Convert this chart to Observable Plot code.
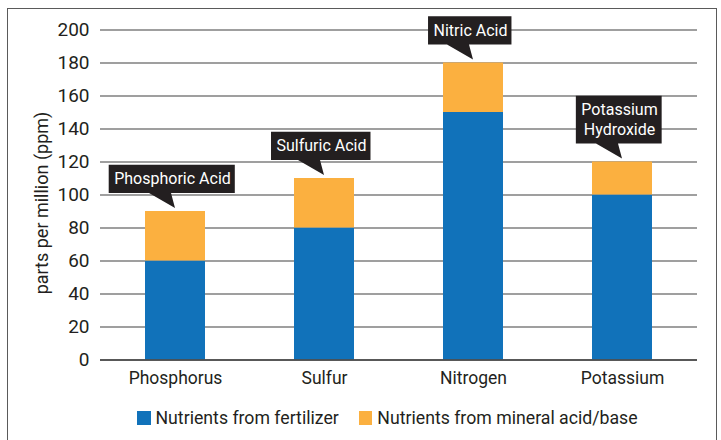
<!DOCTYPE html>
<html><head><meta charset="utf-8">
<script src="https://cdn.jsdelivr.net/npm/d3@7"></script>
<script src="https://cdn.jsdelivr.net/npm/@observablehq/plot@0.6"></script>
<style>
body{margin:0;background:#fff;font-family:Roboto,sans-serif;}
#frame{position:absolute;left:7px;top:8px;width:710px;height:500px;border:1px solid #5a5a5a;box-sizing:border-box;}
#chart{position:absolute;left:0;top:0;}
#legend{position:absolute;left:137px;top:408px;display:flex;align-items:center;font-size:17.7px;color:#231f20;white-space:nowrap;}
#legend .item{display:flex;align-items:center;margin-right:20px;}
#legend .sw{width:13.5px;height:13.5px;margin-right:5px;}
</style></head><body>
<div id="frame"></div>
<div id="chart"></div>
<div id="legend"></div>
<script>
const nutrients = ["Phosphorus", "Sulfur", "Nitrogen", "Potassium"];
const fertilizer = [60, 80, 150, 100];
const mineral = [30, 30, 30, 20];
const callouts = ["Phosphoric Acid", "Sulfuric Acid", "Nitric Acid", "Potassium\nHydroxide"];
const seriesNames = ["Nutrients from fertilizer", "Nutrients from mineral acid/base"];
const seriesColors = ["#1172ba", "#fbb040"];
const yTicks = [0, 20, 40, 60, 80, 100, 120, 140, 160, 180, 200];
const yLabel = "parts per million (ppm)";

const rows = nutrients.flatMap((n, i) => [
  {nutrient: n, source: seriesNames[0], value: fertilizer[i]},
  {nutrient: n, source: seriesNames[1], value: mineral[i]}
]);
const tops = nutrients.map((n, i) => ({nutrient: n, total: fertilizer[i] + mineral[i], label: callouts[i]}));

const boxFill = "#231f20";
function calloutRender(index, scales, values, dimensions, context, next) {
  const ns = "http://www.w3.org/2000/svg";
  const wrap = document.createElementNS(ns, "g");
  const bg = document.createElementNS(ns, "g");
  const ctx = document.createElement("canvas").getContext("2d");
  ctx.font = "16px Roboto";
  const half = scales.x.bandwidth ? scales.x.bandwidth() / 2 : 0;
  for (const i of index) {
    const cx = values.x[i] + half;
    const top = values.y[i];
    const lines = String(tops[i].label).split("\n");
    const w = Math.max(...lines.map(l => ctx.measureText(l).width));
    const tcx = cx - 3;
    const L = tcx - w / 2 - 5, R = tcx + w / 2 + 4.5;
    const B = top - 18, T = B - 28.3 - (lines.length - 1) * 19.4;
    const p = document.createElementNS(ns, "path");
    p.setAttribute("d", `M${L},${T}H${R}V${B}H${cx - 4}L${cx},${top - 3}L${cx - 26},${B}H${L}Z`);
    p.setAttribute("fill", boxFill);
    bg.appendChild(p);
  }
  wrap.appendChild(bg);
  wrap.appendChild(next(index, scales, values, dimensions, context));
  return wrap;
}

const chart = Plot.plot({
  width: 721,
  height: 392,
  marginLeft: 100,
  marginRight: 24,
  marginTop: 29.5,
  marginBottom: 32.5,
  style: {fontFamily: "Roboto, sans-serif", color: "#231f20", background: "transparent", overflow: "visible"},
  x: {domain: nutrients, paddingInner: 0.6, paddingOuter: 0.3, label: null},
  y: {domain: [0, 200], label: null},
  color: {domain: seriesNames, range: seriesColors},
  marks: [
    Plot.gridY(yTicks, {stroke: "#404040", strokeOpacity: 1, strokeWidth: 1.2}),
    Plot.axisY(yTicks, {tickSize: 0, tickPadding: 11, fontSize: 19, label: null}),
    Plot.axisX({tickSize: 0, tickPadding: 12, fontSize: 17.5, label: null}),
    Plot.barY(rows, {x: "nutrient", y: "value", fill: "source"}),
    Plot.ruleY([0], {stroke: "#404040", strokeWidth: 1.4}),
    Plot.text([yLabel], {frameAnchor: "left", textAnchor: "middle", dx: -58.5, dy: 8, rotate: -90, fontSize: 18, fill: "#231f20"}),
    Plot.text(tops, {x: "nutrient", y: "total", text: "label", fill: "white", fontSize: 16,
      lineAnchor: "bottom", lineHeight: 1.2125, dx: -3, dy: -27.3, render: calloutRender})
  ]
});
document.getElementById("chart").appendChild(chart);

const legend = document.getElementById("legend");
seriesNames.forEach((name, i) => {
  const item = document.createElement("div");
  item.className = "item";
  const sw = document.createElement("div");
  sw.className = "sw";
  sw.style.background = seriesColors[i];
  const t = document.createElement("span");
  t.textContent = name;
  item.appendChild(sw);
  item.appendChild(t);
  legend.appendChild(item);
});
</script>
</body></html>
